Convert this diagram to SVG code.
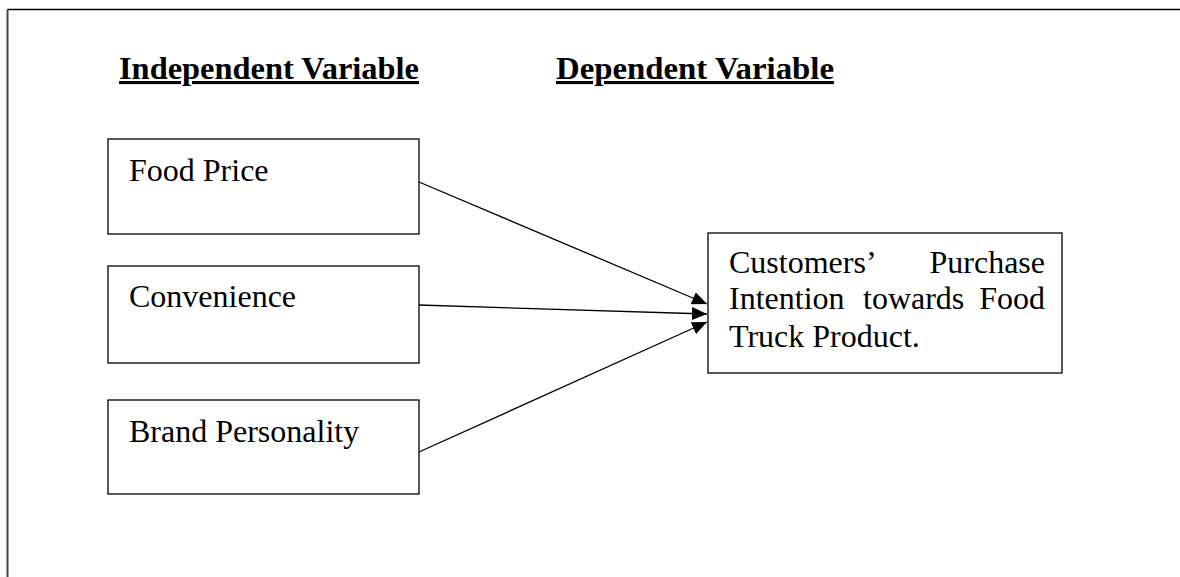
<svg xmlns="http://www.w3.org/2000/svg" width="1180" height="577" viewBox="0 0 1180 577">
<style>
.box{fill:#fff;stroke:#000;stroke-width:1.3}
.t{font-family:"Liberation Serif","Times New Roman",serif;font-size:32px;fill:#000}
.h{font-family:"Liberation Serif","Times New Roman",serif;font-size:31px;font-weight:bold;fill:#000;text-decoration:underline}
.c{stroke:#000;stroke-width:1.3;fill:none;marker-end:url(#ah)}
</style>
<defs>
<marker id="ah" markerWidth="15" markerHeight="13" refX="15" refY="6.5" orient="auto" markerUnits="userSpaceOnUse">
<path d="M0,0 L15,6.5 L0,13 Z" fill="#000"/>
</marker>
</defs>
<rect width="1180" height="577" fill="#fff"/>
<g id="frame">
<line x1="7.5" y1="9.5" x2="1180" y2="9.5" stroke="#000" stroke-width="1.5"/>
<line x1="7.5" y1="9.5" x2="7.5" y2="577" stroke="#444" stroke-width="2"/>
</g>
<g id="headers">
<text class="h" x="119" y="79" textLength="300" lengthAdjust="spacingAndGlyphs">Independent Variable</text>
<text class="h" x="556" y="79" textLength="278" lengthAdjust="spacingAndGlyphs">Dependent Variable</text>
</g>
<g id="connectors">
<line class="c" x1="419" y1="182" x2="707" y2="304"/>
<line class="c" x1="419" y1="305" x2="707" y2="314"/>
<line class="c" x1="419" y1="452" x2="707" y2="322"/>
</g>
<g id="food-price">
<rect class="box" x="108" y="139" width="311" height="95"/>
<text class="t" x="129" y="181">Food Price</text>
</g>
<g id="convenience">
<rect class="box" x="108" y="266" width="311" height="97"/>
<text class="t" x="129" y="307">Convenience</text>
</g>
<g id="brand-personality">
<rect class="box" x="108" y="400" width="311" height="94"/>
<text class="t" x="129" y="442">Brand Personality</text>
</g>
<g id="purchase-intention">
<rect class="box" x="708" y="233" width="354" height="140"/>
<text class="t" x="729" y="273">Customers’</text>
<text class="t" x="1045" y="273" text-anchor="end">Purchase</text>
<text class="t" x="729" y="309">Intention</text>
<text class="t" x="863" y="309">towards</text>
<text class="t" x="1045" y="309" text-anchor="end">Food</text>
<text class="t" x="729" y="347">Truck Product.</text>
</g>
</svg>
